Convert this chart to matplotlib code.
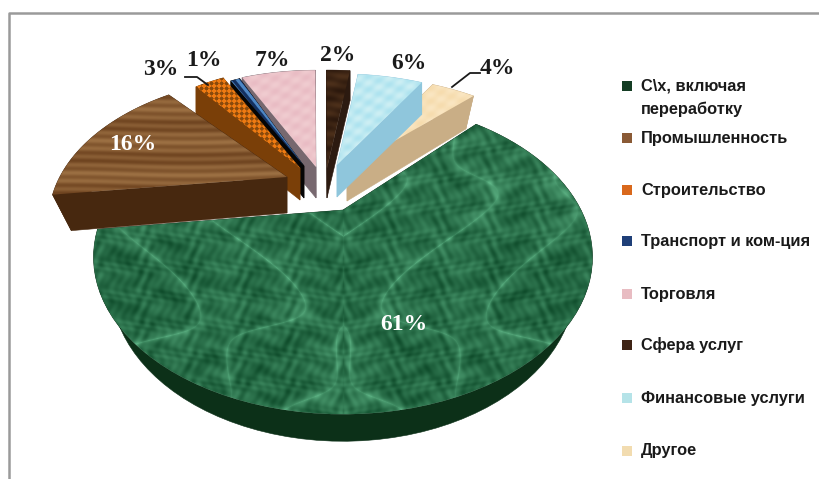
import numpy as np
import matplotlib
matplotlib.use("Agg")
import matplotlib.pyplot as plt
from matplotlib.patches import Polygon

# Shares of the pie, in drawing order of the pie itself
categories = ["C\\x, включая\nпереработку", "Промышленность", "Строительство", "Транспорт и ком-ция",
              "Торговля", "Сфера услуг", "Финансовые услуги", "Другое"]
shares = [61, 16, 3, 1, 7, 2, 6, 4]
percent_labels = ["61%", "16%", "3%", "1%", "7%", "2%", "6%", "4%"]

# Layout, per slice, in pixels: where the tip of the slice sits and how big it is
tips = [(343, 210), (287, 177), (300, 168), (304, 166), (316, 167), (327, 168), (337, 165), (347, 168)]
scale_x = [1.0, 0.955, 0.84, 0.80, 0.92, 1.03, 0.94, 0.95]
scale_y = [1.0, 0.92, 0.91, 0.86, 0.88, 0.89, 0.83, 0.84]
depths = [27, 36, 32, 32, 31, 30, 32, 33]
narrow = [0.93, 0.92, 1.0, 1.0, 1.0, 1.0, 1.0, 0.94]
label_pos = [(404, 324), (133, 144), (161, 69), (204, 60), (272, 60), (338, 55), (409, 63), (497, 68)]
label_col = ["white", "white", "#1a1a1a", "#1a1a1a", "#1a1a1a", "#1a1a1a", "#1a1a1a", "#1a1a1a"]
legend_y = [98, 138, 190, 241, 294, 345, 398, 451]
legend_mark_y = [86, 138, 190, 241, 294, 345, 398, 451]
side_col = ["#0c3018", "#47280f", "#7a3f08", "#050505", "#77686f", "#2c1a10", "#8fc6dc", "#c9ae86"]
legend_col = ["#143d24", "#8a5a35", "#d9681c", "#1f3f78", "#e8bcc2", "#3f2415", "#b5e3e8", "#f2dcb0"]

W, H = 819, 479
# perspective of the tilted pie
R, B, persp = 238, 143, 0.30

xx, yy = np.meshgrid(np.arange(W), np.arange(H))


def mix(c1, c2, t):
    c1 = np.array(matplotlib.colors.to_rgb(c1))
    c2 = np.array(matplotlib.colors.to_rgb(c2))
    return c1 + (c2 - c1) * np.clip(t, 0, 1)[..., None]


# Textures, made of sines only
def marble():
    dx = np.abs(xx - 343)
    v1 = np.sin(dx / 31 + 1.3 * np.sin(yy / 37)) + 0.7 * np.sin(yy / 19 + dx / 43)
    fine = (np.sin(dx / 2.3 + yy / 3.1 + 2 * np.sin(yy / 4.7)) * np.sin(yy / 2.7 - dx / 3.9)
            + np.sin(dx / 5.3 - yy / 4.1 + 3 * np.sin(dx / 7.9)))
    blotch = np.sin(dx / 17 + 2 * np.sin(yy / 23)) * np.sin(yy / 14 + 2 * np.sin(dx / 29))
    t = 0.42 * np.exp(-np.abs(v1) * 8) + 0.2 * (fine + 2) / 2 + 0.2 * (blotch + 1) / 2
    return mix("#0f4c2b", "#62b98a", t)


def wood():
    t = 0.5 + 0.28 * np.sin(yy / 1.3 + np.sin(xx / 40)) + 0.22 * np.sin(yy / 5.3)
    return mix("#6f4420", "#9c7043", t)


def dots():
    t = np.sin((xx + yy) / 1.6) * np.sin((xx - yy) / 1.6)
    return mix("#8a4a0c", "#ee7a12", t * 2 + 0.6)


def stripes():
    t = np.sin((xx - 0.8 * yy) / 1.3)
    return mix("#14305f", "#4d86c4", t + 0.5)


def soft(c1, c2):
    t = 0.5 + 0.5 * np.sin(yy / 2.1 + xx / 9.0) * np.sin(xx / 3.3)
    return mix(c1, c2, t)


def bark():
    t = 0.35 + 0.3 * np.sin(yy / 5.1 + np.sin(xx / 6.3)) * np.sin(yy / 2.3)
    return mix("#2a170c", "#5f3d22", t)


textures = [marble(), wood(), dots(), stripes(), soft("#e9bcc4", "#f0ccd0"), bark(),
            soft("#aee3ef", "#cdeff4"), soft("#f6dcae", "#fae6c2")]

fig, ax = plt.subplots(figsize=(W / 100, H / 100), dpi=100)
ax.set_position([0, 0, 1, 1])

# pie() gives the angles of every slice
wedges, _ = ax.pie(shares, startangle=47, counterclock=False)
angles = [(w.theta1, w.theta2) for w in wedges]
for w in wedges:
    w.remove()

ax.set_aspect("auto")
ax.set_xlim(0, W)
ax.set_ylim(H, 0)
ax.axis("off")


def outline(i):
    t1, t2 = angles[i]
    t = np.radians(np.linspace(t1, t2, 80))
    s = 1 / (1 + persp * np.sin(t))
    px = tips[i][0] + scale_x[i] * R * np.cos(t) * s
    py = tips[i][1] - scale_y[i] * B * np.sin(t) * s
    return px, py


# right slices first, the brown one comes last, green under all of them
order = [0, 7, 6, 5, 4, 3, 2, 1]
z = 2
for i in order:
    px, py = outline(i)
    d = depths[i]
    tip = tips[i]
    # bottom of the walls, a bit narrower than the top
    bx = tip[0] + (px - tip[0]) * narrow[i]
    by = py + d
    walls = [
        np.column_stack([np.r_[px, bx[::-1]], np.r_[py, by[::-1]]]),
        [(tip[0], tip[1]), (px[0], py[0]), (bx[0], by[0]), (tip[0], tip[1] + d)],
        [(tip[0], tip[1]), (px[-1], py[-1]), (bx[-1], by[-1]), (tip[0], tip[1] + d)],
    ]
    if i == 0:
        halo = Polygon(np.column_stack([np.r_[tip[0], px], np.r_[tip[1], py]]), closed=True,
                       fc="none", ec="white", lw=2.5, zorder=z)
        ax.add_patch(halo)
    for wall in walls:
        ax.add_patch(Polygon(wall, closed=True, fc=side_col[i], ec=side_col[i], lw=0.4, zorder=z + 1))
    # top
    top = Polygon(np.column_stack([np.r_[tip[0], px], np.r_[tip[1], py]]), closed=True,
                  fc="none", ec="none", zorder=z + 2)
    ax.add_patch(top)
    im = ax.imshow(textures[i], extent=(0, W, H, 0), zorder=z + 2, aspect="auto", interpolation="bilinear")
    im.set_clip_path(top)
    z += 3

# percent labels
for txt, pos, col in zip(percent_labels, label_pos, label_col):
    ax.text(pos[0], pos[1], txt, color=col, fontsize=17, fontweight="bold",
            family="Liberation Serif", ha="center", va="center", zorder=50)

# leader lines
ax.plot([185, 197, 208], [77, 77, 85], color="#1a1a1a", lw=1.3, zorder=50)
ax.plot([452, 470, 480], [87, 73, 73], color="#1a1a1a", lw=1.3, zorder=50)

# legend
for name, y, my, col in zip(categories, legend_y, legend_mark_y, legend_col):
    ax.scatter([627], [my], marker="s", s=62, color=col, linewidths=0, zorder=50)
    ax.text(641, y, name, fontsize=11.8, fontweight="bold", family="Liberation Sans", color="#1a1a1a",
            va="center", ha="left", linespacing=1.67, zorder=50)

# grey frame
ax.plot([9, 9, W], [H, 13, 13], color="#9a9a9a", lw=1.8, zorder=60)

fig.savefig("out.png", dpi=100)
